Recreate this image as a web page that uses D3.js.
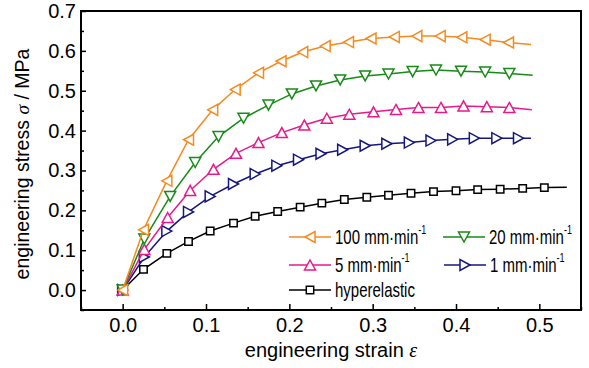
<!DOCTYPE html>
<html>
<head>
<meta charset="utf-8">
<script src="https://cdn.jsdelivr.net/npm/d3@7"></script>
<style>
  body { margin: 0; background: #fff; }
  text { font-family: "Liberation Sans", Arial, sans-serif; fill: #000; }
</style>
</head>
<body>
<svg width="589" height="368"></svg>
<script>
const width = 589;
const height = 368;
const margin = { top: 11, right: 8, bottom: 58, left: 81 };

// values
const xTicks = [0.0, 0.1, 0.2, 0.3, 0.4, 0.5];
const yTicks = [0.0, 0.1, 0.2, 0.3, 0.4, 0.5, 0.6, 0.7];

const hyperStrain = [0, 0.025, 0.053, 0.079, 0.105, 0.133, 0.159, 0.186, 0.213, 0.239, 0.266, 0.293, 0.319, 0.346, 0.373, 0.400, 0.426, 0.453, 0.480, 0.506, 0.533];
const hyperStress = [0, 0.052, 0.092, 0.122, 0.148, 0.168, 0.185, 0.197, 0.208, 0.218, 0.227, 0.233, 0.238, 0.243, 0.247, 0.249, 0.252, 0.253, 0.255, 0.257, 0.258];

const rate1Strain = [0, 0.026, 0.053, 0.079, 0.105, 0.133, 0.159, 0.185, 0.211, 0.238, 0.264, 0.291, 0.317, 0.344, 0.370, 0.396, 0.422, 0.449, 0.475, 0.490];
const rate1Stress = [0, 0.083, 0.148, 0.196, 0.235, 0.266, 0.291, 0.312, 0.327, 0.342, 0.352, 0.362, 0.367, 0.370, 0.375, 0.378, 0.381, 0.381, 0.381, 0.381];

const rate5Strain = [0, 0.026, 0.054, 0.081, 0.109, 0.136, 0.163, 0.191, 0.218, 0.245, 0.272, 0.301, 0.328, 0.355, 0.382, 0.409, 0.437, 0.464, 0.491];
const rate5Stress = [0, 0.102, 0.182, 0.250, 0.303, 0.343, 0.370, 0.395, 0.414, 0.431, 0.441, 0.447, 0.453, 0.458, 0.458, 0.462, 0.460, 0.458, 0.452];

const rate20Strain = [0, 0.026, 0.057, 0.087, 0.115, 0.145, 0.175, 0.203, 0.232, 0.261, 0.291, 0.319, 0.348, 0.376, 0.406, 0.435, 0.464, 0.492];
const rate20Stress = [0, 0.128, 0.235, 0.320, 0.385, 0.431, 0.464, 0.492, 0.512, 0.527, 0.537, 0.542, 0.548, 0.552, 0.549, 0.547, 0.543, 0.539];

const rate100Strain = [0, 0.025, 0.053, 0.079, 0.108, 0.135, 0.163, 0.190, 0.216, 0.243, 0.271, 0.298, 0.326, 0.353, 0.381, 0.407, 0.435, 0.463, 0.490];
const rate100Stress = [0, 0.151, 0.274, 0.377, 0.452, 0.503, 0.545, 0.574, 0.597, 0.612, 0.622, 0.631, 0.635, 0.637, 0.637, 0.634, 0.628, 0.621, 0.616];

// drawing order: first is at the bottom
const series = [
    { label: "hyperelastic", sup: "", x: hyperStrain, y: hyperStress, color: "#000000", symbol: "square" },
    { label: "1 mm·min", sup: "-1", x: rate1Strain, y: rate1Stress, color: "#15177f", symbol: "right" },
    { label: "5 mm·min", sup: "-1", x: rate5Strain, y: rate5Stress, color: "#e8198b", symbol: "up" },
    { label: "20 mm·min", sup: "-1", x: rate20Strain, y: rate20Stress, color: "#178a17", symbol: "down" },
    { label: "100 mm·min", sup: "-1", x: rate100Strain, y: rate100Stress, color: "#f68a1e", symbol: "left" },
];

const svg = d3.select("svg");
const g = svg.append("g").attr("transform", "translate(" + margin.left + "," + margin.top + ")");
const w = width - margin.left - margin.right;
const h = height - margin.top - margin.bottom;

const x = d3.scaleLinear().domain([-0.05, 0.55]).range([0, w]);
const y = d3.scaleLinear().domain([-0.05, 0.7]).range([h, 0]);

// marker path around 0,0
function symbolPath(type) {
    const a = 5.5, b = 5;
    if (type === "square") return "M-3.7,-3.7H3.7V3.7H-3.7Z";
    if (type === "up") return "M0," + (-b) + "L" + a + "," + b + "L" + (-a) + "," + b + "Z";
    if (type === "down") return "M0," + b + "L" + a + "," + (-b) + "L" + (-a) + "," + (-b) + "Z";
    if (type === "left") return "M" + (-b) + ",0L" + b + "," + (-a) + "L" + b + "," + a + "Z";
    return "M" + b + ",0L" + (-b) + "," + (-a) + "L" + (-b) + "," + a + "Z";
}

// axes with inward ticks
const xMinor = d3.range(-0.05, 0.551, 0.05).filter(v => Math.abs(Math.round(v * 10) - v * 10) > 0.01);
const yMinor = d3.range(-0.05, 0.701, 0.05).filter(v => Math.abs(Math.round(v * 10) - v * 10) > 0.01);

g.append("g")
    .attr("transform", "translate(0," + h + ")")
    .call(d3.axisBottom(x).tickValues(xTicks).tickSize(-6).tickFormat(d3.format(".1f")))
    .call(a => a.select(".domain").remove())
    .call(a => a.selectAll("line").attr("stroke-width", 1.5))
    .call(a => a.selectAll("text").attr("y", 8).attr("dy", "0.71em").style("font-size", "20px").style("font-family", "Liberation Sans, Arial"));
g.append("g")
    .attr("transform", "translate(0," + h + ")")
    .call(d3.axisBottom(x).tickValues(xMinor).tickSize(-3).tickFormat(""))
    .call(a => a.select(".domain").remove())
    .call(a => a.selectAll("line").attr("stroke-width", 1.5));

g.append("g")
    .call(d3.axisLeft(y).tickValues(yTicks).tickSize(-5).tickFormat(d3.format(".1f")))
    .call(a => a.select(".domain").remove())
    .call(a => a.selectAll("line").attr("stroke-width", 1.5))
    .call(a => a.selectAll("text").attr("x", -5).style("font-size", "20px").style("font-family", "Liberation Sans, Arial"));
g.append("g")
    .call(d3.axisLeft(y).tickValues(yMinor).tickSize(-3).tickFormat(""))
    .call(a => a.select(".domain").remove())
    .call(a => a.selectAll("line").attr("stroke-width", 1.5));

// frame
g.append("rect")
    .attr("width", w).attr("height", h)
    .attr("fill", "none").attr("stroke", "#000").attr("stroke-width", 2);

// curves
const line = d3.line().x(d => x(d[0])).y(d => y(d[1]));
series.forEach(function (s) {
    const pts = s.x.map((v, i) => [v, s.y[i]]);
    const sg = g.append("g");
    sg.append("path")
        .attr("d", line(pts))
        .attr("fill", "none")
        .attr("stroke", s.color)
        .attr("stroke-width", 1.5);
    // last point only ends the line, no marker
    sg.selectAll("path.mk")
        .data(pts.slice(0, -1))
        .enter()
        .append("path")
        .attr("class", "mk")
        .attr("transform", d => "translate(" + x(d[0]) + "," + y(d[1]) + ")")
        .attr("d", symbolPath(s.symbol))
        .attr("fill", "#fff")
        .attr("stroke", s.color)
        .attr("stroke-width", 1.5);
});

// legend
const legendItems = [
    { s: series[4], x: 208, y: 226 },
    { s: series[3], x: 362, y: 226 },
    { s: series[2], x: 208, y: 254 },
    { s: series[1], x: 363, y: 254 },
    { s: series[0], x: 208, y: 279 },
];
legendItems.forEach(function (it) {
    const lg = g.append("g").attr("transform", "translate(" + it.x + "," + it.y + ")");
    lg.append("line").attr("x1", 0).attr("x2", 42)
        .attr("stroke", it.s.color).attr("stroke-width", 1.5);
    lg.append("path").attr("transform", "translate(21,0)")
        .attr("d", symbolPath(it.s.symbol))
        .attr("fill", "#fff").attr("stroke", it.s.color).attr("stroke-width", 1.5);
    const t = lg.append("text")
        .attr("transform", "translate(46,7) scale(0.75,1)")
        .style("font-size", "20px");
    t.append("tspan").text(it.s.label);
    if (it.s.sup) {
        t.append("tspan").attr("dy", -10).style("font-size", "12px").text(it.s.sup);
    }
});

// axis titles
svg.append("text")
    .attr("x", margin.left + w / 2)
    .attr("y", 357)
    .attr("text-anchor", "middle")
    .style("font-size", "20px")
    .call(t => {
        t.append("tspan").text("engineering strain ");
        t.append("tspan").style("font-family", "Liberation Serif, Times New Roman, serif").style("font-style", "italic").text("ε");
    });

svg.append("text")
    .attr("transform", "translate(29,164) rotate(-90)")
    .attr("text-anchor", "middle")
    .style("font-size", "19.5px")
    .call(t => {
        t.append("tspan").text("engineering stress ");
        t.append("tspan").style("font-family", "Liberation Serif, Times New Roman, serif").style("font-style", "italic").text("σ");
        t.append("tspan").text(" / MPa");
    });
</script>
</body>
</html>
